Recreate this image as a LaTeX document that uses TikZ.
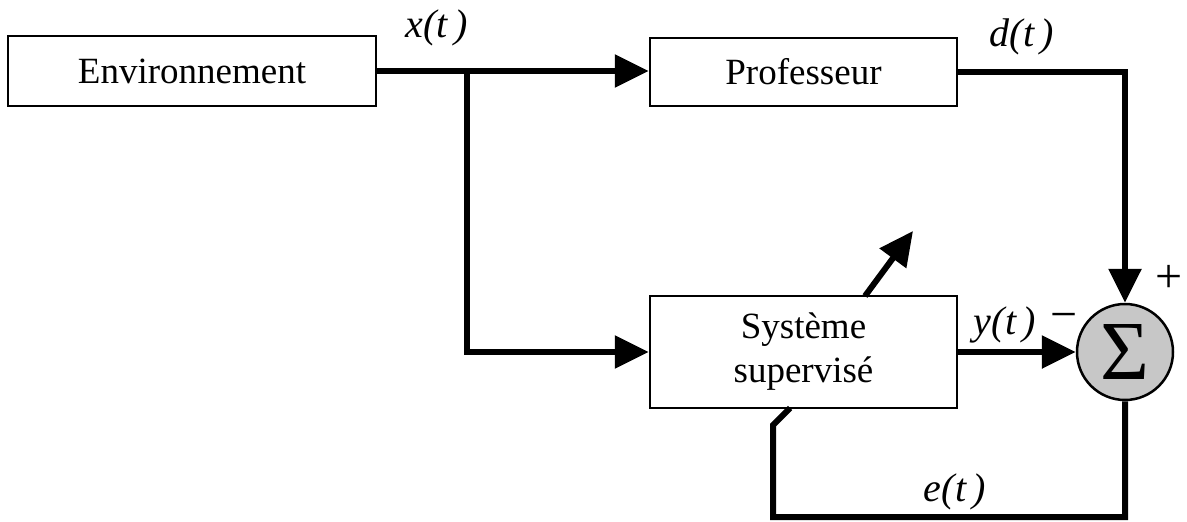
\documentclass[tikz,border=0pt]{standalone}
\usepackage{fontspec}
\setmainfont{Liberation Serif}
\usetikzlibrary{arrows.meta,calc}
\tikzset{
  blockbox/.style={draw, line width=2.5pt, fill=white, inner sep=0pt, align=center,
    font=\fontsize{37}{44}\selectfont},
  sumnode/.style={draw, circle, line width=2.5pt, fill=black!22, minimum size=96pt, inner sep=0pt,
    font=\fontsize{84}{84}\selectfont},
  wire/.style={line width=6pt},
  sig/.style={wire, -{Triangle[length=34pt,width=32pt]}},
  siglabel/.style={font=\fontsize{40}{44}\selectfont\itshape, inner sep=0pt},
  signlabel/.style={font=\fontsize{48}{52}\selectfont, inner sep=0pt}
}
\begin{document}
\begin{tikzpicture}[x=1pt,y=-1pt]
\useasboundingbox (0,0) rectangle (1187,522);

% blocks
\node[blockbox, minimum width=368pt, minimum height=70pt] (env) at (192,71) {Environnement};
\node[blockbox, minimum width=307pt, minimum height=68pt] (prof) at (803.5,72) {Professeur};
\node[blockbox, minimum width=307pt, minimum height=112pt] (sys) at (803.5,352) {Système\\supervisé};
\node[sumnode] (sum) at (1125,352) {\raisebox{-3pt}{Σ}};

% helper points
\coordinate (br) at (467,71);
\coordinate (fbA) at (1125,517);
\coordinate (fbB) at (773,517);
\coordinate (fbC) at (773,425);
\coordinate (fbD) at (790,408);
\coordinate (adS) at (865,296);
\coordinate (adE) at (913,231);

% signal paths
\draw[sig] (env.east) -- (env.east -| prof.west);
\draw[sig] (br) |- (sys.west);
\draw[sig] (prof.east) -| (sum.north);
\draw[sig] (sys.east) -- (sum.west);
\draw[wire, line join=miter] (sum.south) -- (fbA) -- (fbB) -- (fbC) -- (fbD);
\draw[sig] (adS) -- (adE);

% labels
\node[siglabel] (lx) at (437,28) {x(t\,)};
\node[siglabel] (ld) at (1022,37) {d(t\,)};
\node[siglabel] (ly) at (1005,325) {y(t\,)};
\node[siglabel] (le) at (955,492) {e(t\,)};
\node[signlabel] (lm) at (1064,322) {−};
\node[signlabel] (lp) at (1169,279) {+};
\end{tikzpicture}
\end{document}
